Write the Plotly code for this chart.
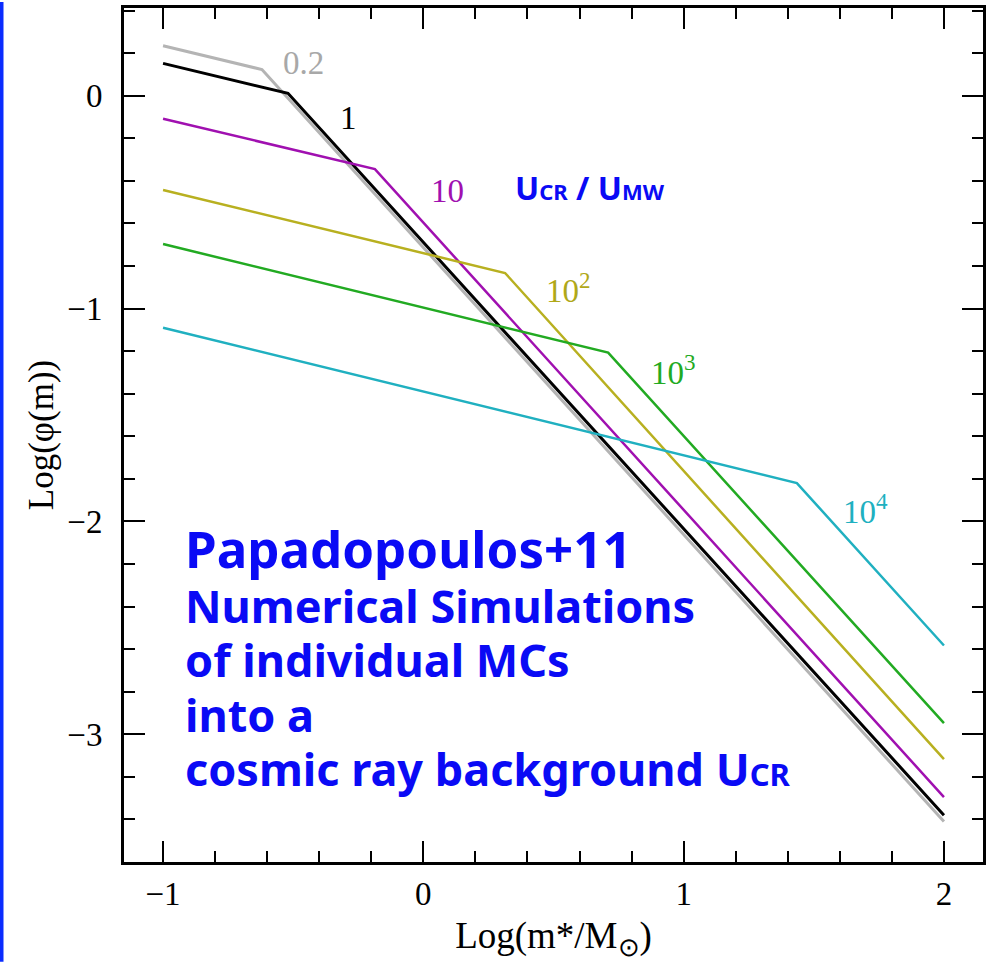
import plotly.graph_objects as go

# ---- data ----
series_names = ["0.2", "1", "10", "10<sup>2</sup>", "10<sup>3</sup>", "10<sup>4</sup>"]
series_colors = ["#b4b4b4", "#000000", "#a010b0", "#b8b020", "#22aa22", "#20b0c0"]
label_colors = ["#a8a8a8", "#000000", "#a010b0", "#b0a818", "#22aa22", "#20b0c0"]
series_widths = [3, 3, 2.5, 2.5, 2.5, 2.5]

x_gray = [-1.0, -0.62, 2.0]
y_gray = [0.235, 0.123, -3.41]
x_black = [-1.0, -0.52, 2.0]
y_black = [0.152, 0.011, -3.38]
x_mag = [-1.0, -0.186, 2.0]
y_mag = [-0.108, -0.345, -3.295]
x_olive = [-1.0, 0.314, 2.0]
y_olive = [-0.443, -0.833, -3.117]
x_green = [-1.0, 0.71, 2.0]
y_green = [-0.697, -1.207, -2.948]
x_cyan = [-1.0, 1.435, 2.0]
y_cyan = [-1.09, -1.82, -2.583]

xs = [x_gray, x_black, x_mag, x_olive, x_green, x_cyan]
ys = [y_gray, y_black, y_mag, y_olive, y_green, y_cyan]

# label positions (left edge x, vertical centre y) in data coords
label_x = [-0.548, -0.328, 0.022, 0.462, 0.866, 1.604]
label_y = [0.155, -0.105, -0.45, -0.905, -1.29, -1.94]

x_ticks = [-1, 0, 1, 2]
y_ticks = [0, -1, -2, -3]

note_lines = [
    "<span style='font-size:51px'>Papadopoulos+11</span>",
    "<span style='font-size:45px'>Numerical Simulations</span>",
    "<span style='font-size:45px'>of individual MCs</span>",
    "<span style='font-size:45px'>into a</span>",
    "<span style='font-size:45px'>cosmic ray background U<span style='font-size:31px'>CR</span></span>",
]

BLUE = "#0a0af5"
SERIF = "Liberation Serif"
SANS = "Noto Sans"

fig = go.Figure()
for i in range(len(xs)):
    fig.add_trace(go.Scatter(
        x=xs[i], y=ys[i], mode="lines",
        line=dict(color=series_colors[i], width=series_widths[i]),
        showlegend=False, hoverinfo="skip"))

for i in range(len(series_names)):
    fig.add_annotation(x=label_x[i], y=label_y[i], text=series_names[i],
                       showarrow=False, xanchor="left", yanchor="middle",
                       font=dict(family=SERIF, size=33, color=label_colors[i]))

fig.add_annotation(x=0.345, y=-0.43,
                   text="<b>U<span style='font-size:22px'>CR</span> / U<span style='font-size:22px'>MW</span></b>",
                   showarrow=False, xanchor="left", yanchor="middle",
                   font=dict(family=SANS, size=32, color=BLUE))

fig.add_annotation(x=-0.925, y=-1.953, text="<b>" + "<br>".join(note_lines) + "</b>",
                   showarrow=False, xanchor="left", yanchor="top", align="left",
                   font=dict(family=SANS, size=42, color=BLUE))

# blue strip at the left edge of the picture
fig.add_shape(type="rect", xref="paper", yref="paper",
              x0=-126 / 859, x1=-120.5 / 859, y0=-100 / 857, y1=1 + 6 / 857,
              fillcolor="#0a2cff", line=dict(width=0), layer="above")

axis_common = dict(
    showline=True, linecolor="black", linewidth=3, mirror="allticks",
    ticks="inside", ticklen=21, tickwidth=2, tickcolor="black",
    showgrid=False, zeroline=False,
    tickfont=dict(family=SERIF, size=33, color="black"),
)

fig.update_xaxes(range=[-1.15, 2.15], tickvals=x_ticks, ticklabelstandoff=0,
                 minor=dict(dtick=0.2, tick0=0, ticks="inside", ticklen=11, tickwidth=2, tickcolor="black"),
                 title=dict(text="Log(m*/M<sub>⊙</sub>)", font=dict(family=SERIF, size=37, color="black"), standoff=16),
                 **axis_common)
fig.update_yaxes(range=[-3.6, 0.412], tickvals=y_ticks, ticklabelstandoff=12,
                 minor=dict(dtick=0.2, tick0=0, ticks="inside", ticklen=11, tickwidth=2, tickcolor="black"),
                 title=dict(text="Log(φ(m))", font=dict(family=SERIF, size=35, color="black"), standoff=4),
                 **axis_common)

fig.update_layout(width=1005, height=962,
                  margin=dict(l=124, r=22, t=5, b=100),
                  plot_bgcolor="white", paper_bgcolor="white")

fig.write_html("out.html")
